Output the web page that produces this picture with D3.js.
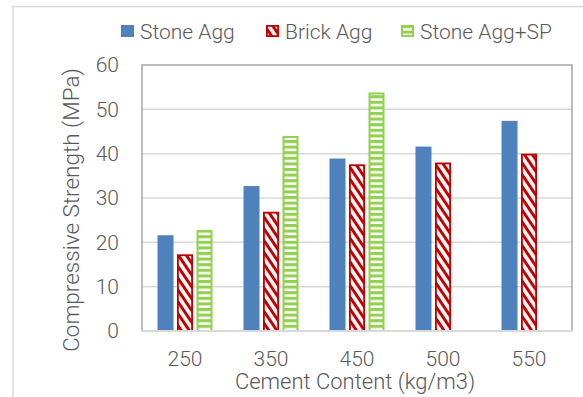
<!DOCTYPE html>
<html>
<head>
<meta charset="utf-8">
<script src="https://cdn.jsdelivr.net/npm/d3@7"></script>
<style>
  html, body { margin: 0; padding: 0; background: #fff; }
  svg { display: block; }
  text { font-family: Roboto, "Liberation Sans", sans-serif; font-weight: 300; fill: #595959; }
</style>
</head>
<body>
<svg id="chart" width="583" height="397"></svg>
<script>
// Cement content categories (kg/m3)
const categories = ["250", "350", "450", "500", "550"];
const seriesNames = ["Stone Agg", "Brick Agg", "Stone Agg+SP"];
// Compressive strength (MPa) per series
const stoneAgg = [21.6, 32.7, 38.9, 41.6, 47.4];
const brickAgg = [17.3, 26.9, 37.6, 38.0, 40.0];
const stoneAggSP = [22.8, 44.0, 53.8, null, null];
const yTicks = [0, 10, 20, 30, 40, 50, 60];

const seriesValues = [stoneAgg, brickAgg, stoneAggSP];
const svg = d3.select("#chart");

const plot = { left: 142, right: 572, top: 65, bottom: 331 };

const x = d3.scaleBand().domain(categories).range([plot.left, plot.right]);
const xInner = d3.scaleBand().domain(seriesNames)
  .range([13.75, x.bandwidth() - 13.75])
  .paddingInner(0.18).paddingOuter(0.09);
const y = d3.scaleLinear().domain([0, 60]).range([plot.bottom, plot.top]);

// Fill patterns for the hatched series
const defs = svg.append("defs");
const diag = defs.append("pattern")
  .attr("id", "brickHatch")
  .attr("patternUnits", "userSpaceOnUse")
  .attr("width", 10).attr("height", 6.6)
  .attr("patternTransform", "rotate(56)");
diag.append("rect").attr("width", 10).attr("height", 6.6).attr("fill", "#fff");
diag.append("rect").attr("width", 10).attr("height", 3).attr("fill", "#C00000");

const horiz = defs.append("pattern")
  .attr("id", "spHatch")
  .attr("patternUnits", "userSpaceOnUse")
  .attr("width", 10).attr("height", 5.6);
horiz.append("rect").attr("width", 10).attr("height", 5.6).attr("fill", "#fff");
horiz.append("rect").attr("width", 10).attr("height", 3.1).attr("fill", "#92D050");

const styles = [
  { fill: "#4F81BD", stroke: "none", sw: 0 },
  { fill: "url(#brickHatch)", stroke: "#C00000", sw: 1.8 },
  { fill: "url(#spHatch)", stroke: "#92D050", sw: 2 }
];

// Outer chart frame
svg.append("path")
  .attr("d", "M13,400 V6.5 H590")
  .attr("fill", "none").attr("stroke", "#d9d9d9").attr("stroke-width", 1.5);

// Horizontal gridlines
svg.append("g").selectAll("line")
  .data(yTicks.filter(t => t > 0 && t < 60))
  .join("line")
  .attr("x1", plot.left).attr("x2", plot.right)
  .attr("y1", d => y(d)).attr("y2", d => y(d))
  .attr("stroke", "#d9d9d9").attr("stroke-width", 1.5);

// Bars
seriesNames.forEach((name, si) => {
  const st = styles[si];
  svg.append("g").selectAll("rect")
    .data(categories.map((c, i) => ({ c, v: seriesValues[si][i] })).filter(d => d.v != null))
    .join("rect")
    .attr("x", d => x(d.c) + xInner(name) + st.sw / 2)
    .attr("y", d => y(d.v) + st.sw / 2)
    .attr("width", xInner.bandwidth() - st.sw)
    .attr("height", d => y(0) - y(d.v) - st.sw / 2)
    .attr("fill", st.fill)
    .attr("stroke", st.stroke)
    .attr("stroke-width", st.sw);
});

// Plot area border
svg.append("path")
  .attr("d", `M${plot.left},${plot.bottom} V${plot.top} H${plot.right} V${plot.bottom}`)
  .attr("fill", "none").attr("stroke", "#a6a6a6").attr("stroke-width", 1.5);
svg.append("line")
  .attr("x1", plot.left - 1).attr("x2", plot.right + 1)
  .attr("y1", plot.bottom).attr("y2", plot.bottom)
  .attr("stroke", "#d9d9d9").attr("stroke-width", 2);

// Y axis labels
const yAxis = d3.axisLeft(y).tickValues(yTicks).tickSize(0).tickPadding(0);
const gy = svg.append("g").attr("transform", "translate(119,0)").call(yAxis);
gy.select(".domain").remove();
gy.selectAll("text").style("font-size", "21px").style("font-family", "Roboto, sans-serif").style("font-weight", 300).attr("fill", "#595959");

// X axis labels
const xAxis = d3.axisBottom(x).tickSize(0).tickPadding(0);
const gx = svg.append("g").attr("transform", "translate(0,351)").call(xAxis);
gx.select(".domain").remove();
gx.selectAll("text").style("font-size", "21px").style("font-family", "Roboto, sans-serif").style("font-weight", 300).attr("fill", "#595959");

// Axis titles
svg.append("text")
  .attr("x", 355).attr("y", 389)
  .attr("text-anchor", "middle")
  .style("font-size", "22px")
  .text("Cement Content (kg/m3)");
svg.append("text")
  .attr("transform", "translate(79,210) rotate(-90)")
  .attr("text-anchor", "middle")
  .style("font-size", "22.5px")
  .text("Compressive Strength (MPa)");

// Legend
const legendPos = [121, 266, 401];
const legend = svg.append("g");
seriesNames.forEach((name, i) => {
  const st = styles[i];
  const g = legend.append("g").attr("transform", `translate(${legendPos[i]},25)`);
  g.append("rect")
    .attr("x", st.sw / 2).attr("y", st.sw / 2)
    .attr("width", 13 - st.sw).attr("height", 12 - st.sw)
    .attr("fill", st.fill).attr("stroke", st.stroke).attr("stroke-width", st.sw);
  g.append("text")
    .attr("x", 19).attr("y", 13.5)
    .style("font-size", "21px")
    .text(name);
});
</script>
</body>
</html>
